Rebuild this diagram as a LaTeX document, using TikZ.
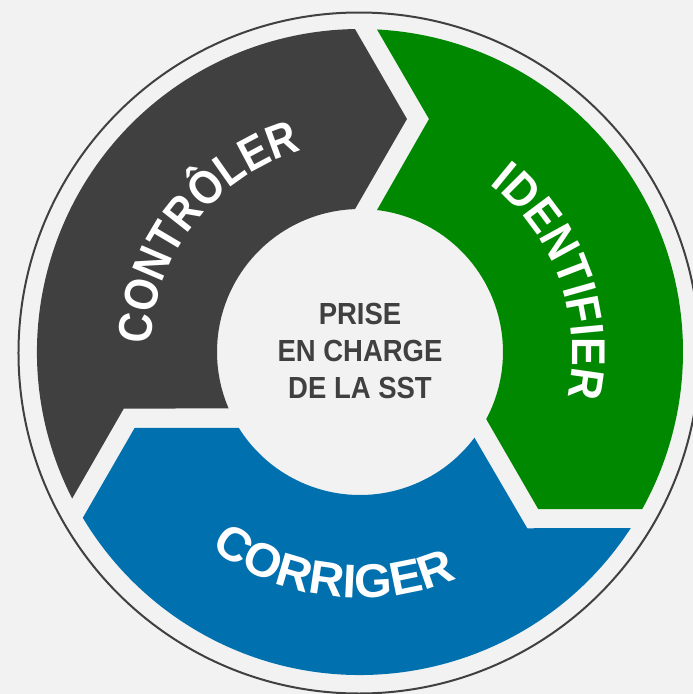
\documentclass[tikz,border=0pt]{standalone}
\usepackage{fontspec}
\setmainfont{Liberation Sans}[FakeStretch=0.9]
\newfontfamily\arcnarrow{Liberation Sans}[FakeStretch=0.875]
\newfontfamily\arcmid{Liberation Sans}[FakeStretch=0.91]
\newfontfamily\arcwide{Liberation Sans}[FakeStretch=1.02]
\usetikzlibrary{decorations.text}
\definecolor{bggray}{HTML}{F2F2F2}
\definecolor{darkgray}{HTML}{404040}
\definecolor{sstgreen}{HTML}{008800}
\definecolor{sstblue}{HTML}{0070AF}
\newcommand{\corefont}{\fontsize{22.9}{27.5}\selectfont\bfseries}
\begin{document}
\begin{tikzpicture}[
    x=0.75pt, y=0.75pt,
    arcword/.style 2 args={decorate, decoration={text along path, text align=center,
        text color=white, text={|#2\fontsize{35.5}{40}\selectfont\bfseries|#1}}},
    every node/.style={text=darkgray}]

\useasboundingbox (-360,-342) rectangle (333,352);
\fill[bggray] (-360,-342) rectangle (333,352);
\draw[darkgray, line width=1.5pt] (-1,-1) circle[radius=340.5];

% one arrow step, turned three times
\foreach \turn/\col in {0/darkgray, -120/sstgreen, 120/sstblue}
    \fill[\col, rotate=\turn] (90.89:323) -- (78.6:237.7) -- (92.0:143)
        arc[start angle=92.0, end angle=203.17, radius=143]
        -- (193.5:243) -- (206.98:323)
        arc[start angle=206.98, end angle=90.89, radius=323] -- cycle;

\node[align=center, font=\corefont] (core) at (0,1) {PRISE\\EN CHARGE\\DE LA SST};

\path[arcword={CONTRÔLER}{\arcnarrow}] (202:209) arc[start angle=202, end angle=82, radius=209];
\path[arcword={IDENTIFIER}{\arcmid}] (80:212) arc[start angle=80, end angle=-40, radius=212];
\path[arcword={CORRIGER}{\arcwide}] (203:246) arc[start angle=203, end angle=323, radius=246];

\end{tikzpicture}
\end{document}
